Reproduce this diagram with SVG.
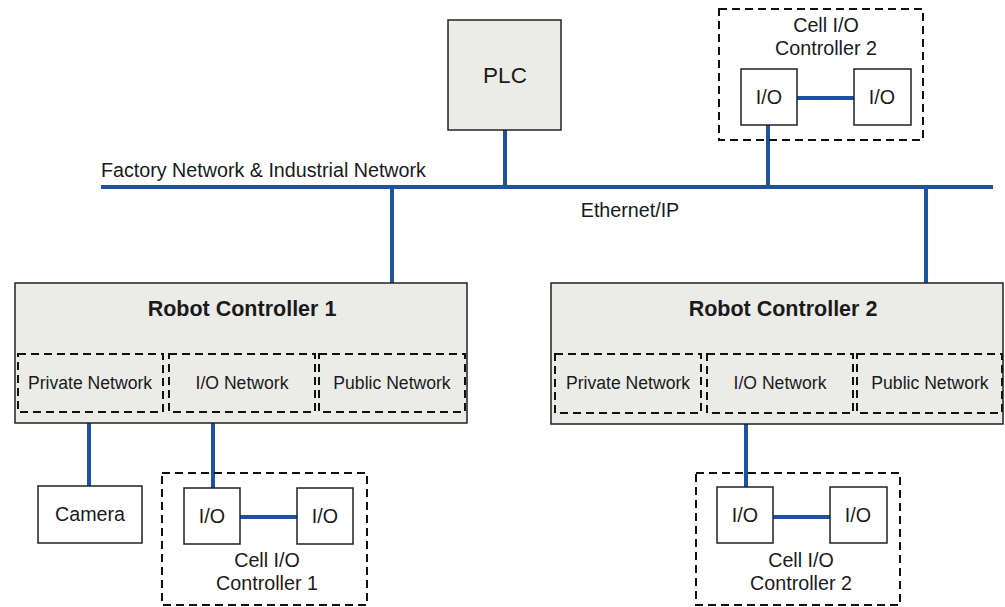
<svg xmlns="http://www.w3.org/2000/svg" width="1005" height="607" viewBox="0 0 1005 607">
<style>
text{font-family:"Liberation Sans",Arial,sans-serif;fill:#1a1a1a;text-anchor:middle}
.lbl{font-size:19.7px}
.net{font-size:17.6px}
.title{font-size:21.5px;font-weight:bold}
.plc{font-size:22.5px}
.box{fill:#ffffff;stroke:#222;stroke-width:1.5}
.gray{fill:#ebebe8;stroke:#222;stroke-width:1.5}
.dash{fill:none;stroke:#111;stroke-width:2;stroke-dasharray:8,5}
.wire{stroke:#1c52a0;stroke-width:4;fill:none}
</style>
<rect width="1005" height="607" fill="#ffffff"/>
<g id="connectors">
<line class="wire" x1="101" y1="187" x2="993" y2="187"/>
<line class="wire" x1="505" y1="130" x2="505" y2="187"/>
<line class="wire" x1="768" y1="125" x2="768" y2="187"/>
<line class="wire" x1="797" y1="98" x2="854" y2="98"/>
<line class="wire" x1="392" y1="187" x2="392" y2="354"/>
<line class="wire" x1="926" y1="187" x2="926" y2="354"/>
<line class="wire" x1="89" y1="412" x2="89" y2="486"/>
<line class="wire" x1="213" y1="412" x2="213" y2="488"/>
<line class="wire" x1="240" y1="517" x2="297" y2="517"/>
<line class="wire" x1="746" y1="412" x2="746" y2="487"/>
<line class="wire" x1="773" y1="517" x2="830" y2="517"/>
</g>
<g id="bus-labels">
<text class="lbl" x="101" y="177" style="text-anchor:start">Factory Network &amp; Industrial Network</text>
<text class="lbl" x="630" y="217">Ethernet/IP</text>
</g>
<g id="plc">
<rect class="gray" x="448" y="20" width="113" height="110"/>
<text class="plc" x="505" y="83">PLC</text>
</g>
<g id="cell-io-top">
<rect class="dash" x="719" y="9" width="204" height="131"/>
<text class="lbl" x="826" y="32">Cell I/O</text>
<text class="lbl" x="826" y="55">Controller 2</text>
<rect class="box" x="741" y="69" width="56" height="56"/>
<text class="lbl" x="769" y="104">I/O</text>
<rect class="box" x="854" y="69" width="57" height="56"/>
<text class="lbl" x="882" y="104">I/O</text>
</g>
<g id="robot-controller-1">
<rect class="gray" x="15" y="283" width="452" height="140"/>
<text class="title" x="242" y="316">Robot Controller 1</text>
<rect class="dash" x="18" y="354" width="145" height="58"/>
<text class="net" x="90" y="389">Private Network</text>
<rect class="dash" x="169" y="354" width="146" height="58"/>
<text class="net" x="242" y="389">I/O Network</text>
<rect class="dash" x="319" y="354" width="146" height="58"/>
<text class="net" x="392" y="389">Public Network</text>
</g>
<g id="robot-controller-2">
<rect class="gray" x="551" y="283" width="452" height="141"/>
<text class="title" x="783" y="316">Robot Controller 2</text>
<rect class="dash" x="555" y="354" width="146" height="59"/>
<text class="net" x="628" y="389">Private Network</text>
<rect class="dash" x="707" y="354" width="146" height="59"/>
<text class="net" x="780" y="389">I/O Network</text>
<rect class="dash" x="857" y="354" width="145" height="59"/>
<text class="net" x="930" y="389">Public Network</text>
</g>
<g id="camera">
<rect class="box" x="38" y="486" width="104" height="57"/>
<text class="lbl" x="90" y="521">Camera</text>
</g>
<g id="cell-io-1">
<rect class="dash" x="162" y="473" width="205" height="132"/>
<rect class="box" x="184" y="488" width="56" height="56"/>
<text class="lbl" x="212" y="523">I/O</text>
<rect class="box" x="297" y="488" width="56" height="56"/>
<text class="lbl" x="325" y="523">I/O</text>
<text class="lbl" x="267" y="567">Cell I/O</text>
<text class="lbl" x="267" y="590">Controller 1</text>
</g>
<g id="cell-io-2">
<rect class="dash" x="696" y="473" width="204" height="132"/>
<rect class="box" x="717" y="487" width="56" height="56"/>
<text class="lbl" x="745" y="522">I/O</text>
<rect class="box" x="830" y="487" width="57" height="56"/>
<text class="lbl" x="858" y="522">I/O</text>
<text class="lbl" x="801" y="567">Cell I/O</text>
<text class="lbl" x="801" y="590">Controller 2</text>
</g>
</svg>
